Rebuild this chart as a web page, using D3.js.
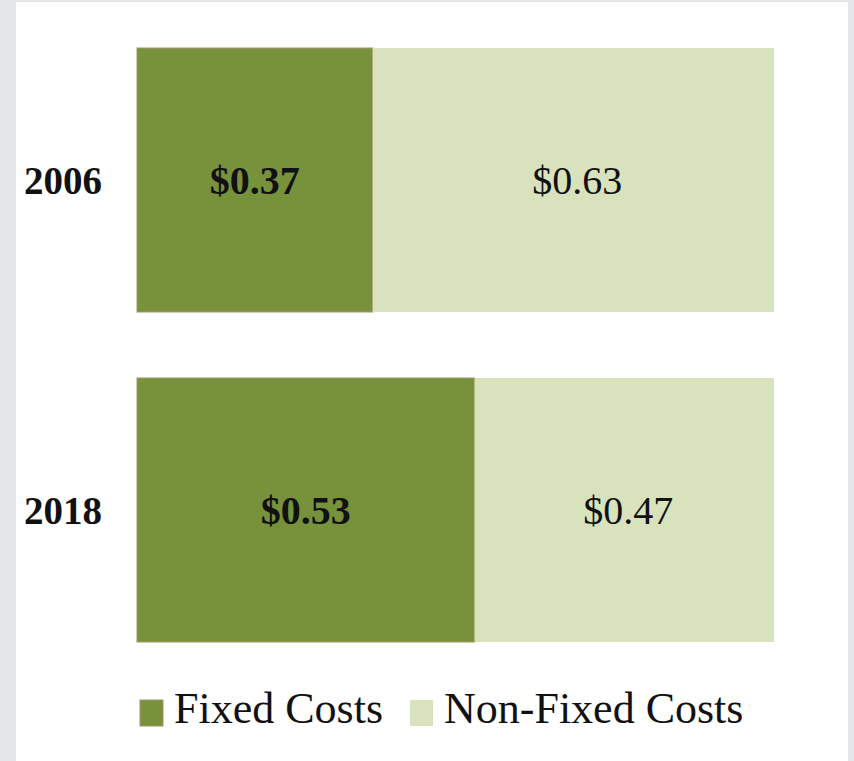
<!DOCTYPE html>
<html>
<head>
<meta charset="utf-8">
<script src="https://cdn.jsdelivr.net/npm/d3@7"></script>
<style>
  html, body { margin: 0; padding: 0; background: #e5e6e9; }
  svg { display: block; }
  text { font-family: "Liberation Serif", "Times New Roman", serif; fill: #111; }
</style>
</head>
<body>
<svg id="chart" width="854" height="761"></svg>
<script>
// Chart data
var years = ['2006', '2018'];
var fixedCosts = [0.37, 0.53];
var nonFixedCosts = [0.63, 0.47];
var seriesNames = ['Fixed Costs', 'Non-Fixed Costs'];
var seriesColors = ['#78923c', '#d8e3bd'];

var svg = d3.select('#chart');

// White panel over the grey page
svg.append('rect')
   .attr('x', 16).attr('y', 2)
   .attr('width', 832).attr('height', 761)
   .attr('fill', '#ffffff');

var x = d3.scaleLinear().domain([0, 1]).range([137, 774]);
var y = d3.scaleBand().domain(years).range([48, 642])
          .paddingInner(0.2).paddingOuter(0);

// Build stacked rows
var rows = years.map(function(yr, i) {
  return { year: yr, fixed: fixedCosts[i], nonFixed: nonFixedCosts[i] };
});
var stack = d3.stack().keys(['fixed', 'nonFixed']);
var layers = stack(rows);

var g = svg.append('g');

layers.forEach(function(layer, li) {
  g.selectAll('rect.s' + li)
   .data(layer)
   .enter()
   .append('rect')
   .attr('class', 's' + li)
   .attr('x', function(d) { return x(d[0]); })
   .attr('y', function(d) { return y(d.data.year); })
   .attr('width', function(d) { return x(d[1]) - x(d[0]); })
   .attr('height', y.bandwidth())
   .attr('fill', seriesColors[li])
   .attr('stroke', li == 0 ? '#a39467' : 'none')
   .attr('stroke-width', 1);

  // Value labels
  g.selectAll('text.v' + li)
   .data(layer)
   .enter()
   .append('text')
   .attr('class', 'v' + li)
   .attr('x', function(d) { return (x(d[0]) + x(d[1])) / 2 + (li == 0 ? 0 : 4); })
   .attr('y', function(d) { return y(d.data.year) + y.bandwidth() / 2; })
   .attr('dy', '0.35em')
   .attr('text-anchor', 'middle')
   .style('font-size', '40px')
   .style('font-weight', li == 0 ? 'bold' : 'normal')
   .text(function(d) { return '$' + (d[1] - d[0]).toFixed(2); });
});

// Year axis (labels only)
var yAxis = svg.append('g')
   .attr('transform', 'translate(102,0)')
   .call(d3.axisLeft(y).tickSize(0).tickPadding(0));
yAxis.select('.domain').remove();
yAxis.selectAll('text')
     .attr('dy', '0.35em')
     .style('font-family', '"Liberation Serif", serif')
     .style('font-size', '39px')
     .style('font-weight', 'bold')
     .attr('fill', '#111');

// Legend
var legendX = [140, 410];
var legend = svg.append('g');
seriesNames.forEach(function(name, i) {
  legend.append('rect')
        .attr('x', legendX[i]).attr('y', 700)
        .attr('width', 23).attr('height', 26)
        .attr('fill', seriesColors[i])
        .attr('stroke', i == 0 ? '#a39467' : 'none');
  legend.append('text')
        .attr('x', legendX[i] + 34).attr('y', 723)
        .style('font-size', '44px')
        .text(name);
});
</script>
</body>
</html>
